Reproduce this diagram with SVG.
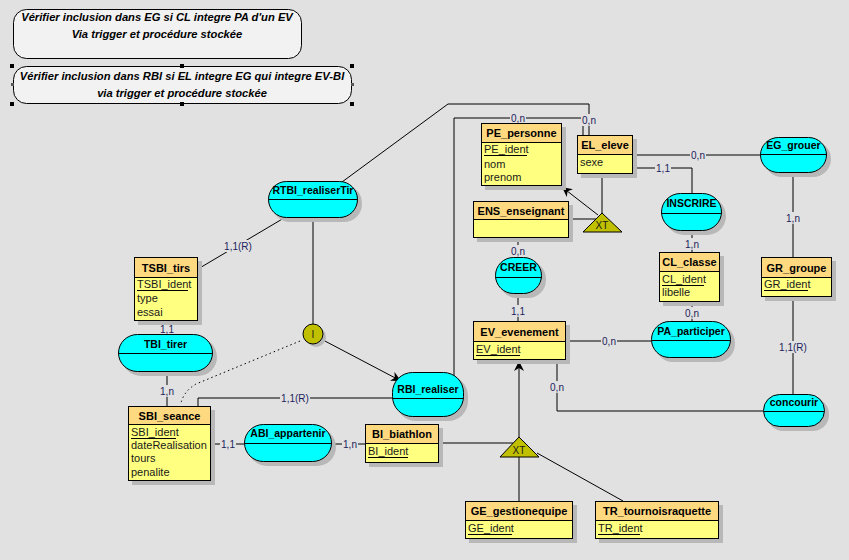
<svg xmlns="http://www.w3.org/2000/svg" width="849" height="560" viewBox="0 0 849 560">
<defs>
<marker id="arr" viewBox="0 0 10 10" refX="10" refY="5" markerWidth="10" markerHeight="10" orient="auto" markerUnits="userSpaceOnUse">
<path d="M0,0 L10,5 L0,10 L3,5 z" fill="#000"/>
</marker>
<style>
.sh{fill:#b8b8b8}
.hd{fill:#ffd980;stroke:#000;stroke-width:1}
.bd{fill:#ffff80;stroke:#000;stroke-width:1}
.as{fill:#00ffff;stroke:#000;stroke-width:1}
.ttl{font-family:"Liberation Sans",Arial,sans-serif;font-size:11px;font-weight:bold;fill:#000;text-anchor:middle}
.atr{font-family:"Liberation Sans",Arial,sans-serif;font-size:11px;fill:#1a1a1a}
.al{font-family:"Liberation Sans",Arial,sans-serif;font-size:10.5px;font-weight:bold;fill:#000;text-anchor:middle}
.cn{fill:none;stroke:#000;stroke-width:1}
.lb{font-family:"Liberation Sans",Arial,sans-serif;font-size:10px;fill:#1c1c5c;text-anchor:middle}
.lbg{fill:#e1e1e1}
.ul{stroke:#000;stroke-width:1}
.note{fill:#f2f2f2;stroke:#000;stroke-width:1}
.nt{font-family:"Liberation Sans",Arial,sans-serif;font-size:11.2px;font-weight:bold;font-style:italic;fill:#000;text-anchor:middle}
.ol{fill:#c0c000;stroke:#000;stroke-width:1}
.sym{font-family:"Liberation Sans",Arial,sans-serif;font-size:10px;fill:#1a1a1a;text-anchor:middle}
.hn{fill:#000}
</style>
</defs>
<rect width="849" height="560" fill="#e1e1e1"/>

<g id="note1">
<rect x="13.5" y="9.5" width="288" height="49" rx="13" class="note"/>
<text x="157" y="21" class="nt">Vérifier inclusion dans EG si CL integre PA d'un EV</text>
<text x="157" y="38" class="nt">Via trigger et procédure stockée</text>
</g>
<g id="note2">
<rect x="13.5" y="66.5" width="338" height="37" rx="13" class="note"/>
<text x="182" y="80" class="nt">Vérifier inclusion dans RBI si EL integre EG qui integre EV-BI</text>
<text x="182" y="97" class="nt">via trigger et procédure stockée</text>
<rect x="10" y="64" width="4" height="4" class="hn"/>
<rect x="180" y="64" width="4" height="4" class="hn"/>
<rect x="350" y="64" width="4" height="4" class="hn"/>
<rect x="10" y="102" width="4" height="4" class="hn"/>
<rect x="180" y="102" width="4" height="4" class="hn"/>
<rect x="350" y="102" width="4" height="4" class="hn"/>
<rect x="11" y="83" width="3" height="3" fill="#555"/>
<rect x="351" y="83" width="3" height="3" fill="#555"/>
</g>

<g id="connectors">
<path class="cn" d="M342,182 L448,104 L589,104 L589,135"/>
<path class="cn" d="M454,382 L454,118 L583,118 L583,135"/>
<path class="cn" d="M633,155 L760,155"/>
<path class="cn" d="M633,168 L692,168 L692,193"/>
<path class="cn" d="M692,231 L692,252"/>
<path class="cn" d="M793,173 L793,257"/>
<path class="cn" d="M793,297 L793,394"/>
<path class="cn" d="M763,411 L557,411 L557,360"/>
<path class="cn" d="M692,302 L692,321"/>
<path class="cn" d="M566,341 L651,341"/>
<path class="cn" d="M518,294 L518,321"/>
<path class="cn" d="M518,238 L518,257"/>
<path class="cn" d="M602,174 L602,213"/>
<path class="cn" d="M569,219 L596,219"/>
<path class="cn" d="M598,215 L562,187" marker-end="url(#arr)"/>
<path class="cn" d="M519,437 L519,361" marker-end="url(#arr)"/>
<path class="cn" d="M439,443 L513,443"/>
<path class="cn" d="M519,457 L519,501"/>
<path class="cn" d="M537,453 L623,501"/>
<path class="cn" d="M211,444 L244,444"/>
<path class="cn" d="M332,444 L365,444"/>
<path class="cn" d="M198,406 L198,398 L392,398"/>
<path class="cn" d="M167,372 L167,406"/>
<path class="cn" d="M167,321 L167,334"/>
<path class="cn" d="M198,269 L284,218"/>
<path class="cn" d="M313,218 L313,324"/>
<path class="cn" d="M323,340 L401,381" marker-end="url(#arr)"/>
<path class="cn" d="M300,341 L196,384 Q184,391 181,403" stroke-dasharray="1.5,3"/>
<rect x="510" y="112" width="16" height="12" class="lbg"/><text x="518" y="122" class="lb">0,n</text>
<rect x="581" y="114" width="16" height="12" class="lbg"/><text x="589" y="124" class="lb">0,n</text>
<rect x="690" y="149" width="16" height="12" class="lbg"/><text x="698" y="159" class="lb">0,n</text>
<rect x="655" y="162" width="16" height="12" class="lbg"/><text x="663" y="172" class="lb">1,1</text>
<rect x="684" y="238" width="16" height="12" class="lbg"/><text x="692" y="248" class="lb">1,n</text>
<rect x="785" y="212" width="16" height="12" class="lbg"/><text x="793" y="222" class="lb">1,n</text>
<rect x="778" y="341" width="30" height="12" class="lbg"/><text x="793" y="351" class="lb">1,1(R)</text>
<rect x="549" y="381" width="16" height="12" class="lbg"/><text x="557" y="391" class="lb">0,n</text>
<rect x="684" y="307" width="16" height="12" class="lbg"/><text x="692" y="317" class="lb">0,n</text>
<rect x="601" y="335" width="16" height="12" class="lbg"/><text x="609" y="345" class="lb">0,n</text>
<rect x="510" y="305" width="16" height="12" class="lbg"/><text x="518" y="315" class="lb">1,1</text>
<rect x="510" y="245" width="16" height="12" class="lbg"/><text x="518" y="255" class="lb">0,n</text>
<rect x="220" y="438" width="16" height="12" class="lbg"/><text x="228" y="448" class="lb">1,1</text>
<rect x="342" y="438" width="16" height="12" class="lbg"/><text x="350" y="448" class="lb">1,n</text>
<rect x="280" y="392" width="30" height="12" class="lbg"/><text x="295" y="402" class="lb">1,1(R)</text>
<rect x="159" y="385" width="16" height="12" class="lbg"/><text x="167" y="395" class="lb">1,n</text>
<rect x="159" y="323" width="16" height="12" class="lbg"/><text x="167" y="333" class="lb">1,1</text>
<rect x="223" y="240" width="30" height="12" class="lbg"/><text x="238" y="250" class="lb">1,1(R)</text>
</g>

<g id="XT1">
<polygon points="602,213 583,232 622,232" class="ol"/>
<text x="602" y="229" class="sym">XT</text>
</g>
<g id="XT2">
<polygon points="519,437 500,457 539,457" class="ol"/>
<text x="519" y="454" class="sym">XT</text>
</g>
<g id="I">
<circle cx="316" cy="337" r="10" class="sh"/>
<circle cx="313" cy="334" r="10" class="ol"/>
<text x="313" y="338" class="sym">I</text>
</g>

<g id="PE_personne">
<rect x="485" y="127" width="81" height="63" class="sh"/>
<rect x="481.5" y="123.5" width="80" height="19" class="hd"/>
<rect x="481.5" y="142.5" width="80" height="43" class="bd"/>
<text x="521.5" y="137" class="ttl">PE_personne</text>
<text x="484" y="153" class="atr">PE_ident</text>
<line x1="484" y1="155.5" x2="527" y2="155.5" class="ul"/>
<text x="484" y="168" class="atr">nom</text>
<text x="484" y="181" class="atr">prenom</text>
</g>
<g id="EL_eleve">
<rect x="581" y="139" width="56" height="39" class="sh"/>
<rect x="577.5" y="135.5" width="55" height="19" class="hd"/>
<rect x="577.5" y="154.5" width="55" height="19" class="bd"/>
<text x="605" y="149" class="ttl">EL_eleve</text>
<text x="580" y="166" class="atr">sexe</text>
</g>
<g id="ENS_enseignant">
<rect x="477" y="205" width="96" height="37" class="sh"/>
<rect x="473.5" y="201.5" width="95" height="18" class="hd"/>
<rect x="473.5" y="219.5" width="95" height="18" class="bd"/>
<text x="521" y="215" class="ttl">ENS_enseignant</text>
</g>
<g id="CL_classe">
<rect x="663" y="256" width="61" height="50" class="sh"/>
<rect x="659.5" y="252.5" width="60" height="19" class="hd"/>
<rect x="659.5" y="271.5" width="60" height="30" class="bd"/>
<text x="689.5" y="266" class="ttl">CL_classe</text>
<text x="662" y="283" class="atr">CL_ident</text>
<line x1="662" y1="285.5" x2="704" y2="285.5" class="ul"/>
<text x="662" y="296" class="atr">libelle</text>
</g>
<g id="GR_groupe">
<rect x="765" y="261" width="71" height="40" class="sh"/>
<rect x="761.5" y="257.5" width="70" height="20" class="hd"/>
<rect x="761.5" y="277.5" width="70" height="19" class="bd"/>
<text x="796.5" y="272" class="ttl">GR_groupe</text>
<text x="764" y="288" class="atr">GR_ident</text>
<line x1="764" y1="290.5" x2="808" y2="290.5" class="ul"/>
</g>
<g id="EV_evenement">
<rect x="477" y="325" width="93" height="39" class="sh"/>
<rect x="473.5" y="321.5" width="92" height="20" class="hd"/>
<rect x="473.5" y="341.5" width="92" height="18" class="bd"/>
<text x="519.5" y="336" class="ttl">EV_evenement</text>
<text x="476" y="353" class="atr">EV_ident</text>
<line x1="476" y1="355.5" x2="520" y2="355.5" class="ul"/>
</g>
<g id="TSBI_tirs">
<rect x="138" y="261" width="64" height="64" class="sh"/>
<rect x="134.5" y="257.5" width="63" height="20" class="hd"/>
<rect x="134.5" y="277.5" width="63" height="43" class="bd"/>
<text x="166" y="272" class="ttl">TSBI_tirs</text>
<text x="137" y="288" class="atr">TSBI_ident</text>
<line x1="137" y1="290.5" x2="188" y2="290.5" class="ul"/>
<text x="137" y="302" class="atr">type</text>
<text x="137" y="316" class="atr">essai</text>
</g>
<g id="SBI_seance">
<rect x="132" y="410" width="83" height="75" class="sh"/>
<rect x="128.5" y="406.5" width="82" height="18" class="hd"/>
<rect x="128.5" y="424.5" width="82" height="56" class="bd"/>
<text x="169.5" y="420" class="ttl">SBI_seance</text>
<text x="131" y="436" class="atr">SBI_ident</text>
<line x1="131" y1="438.5" x2="176" y2="438.5" class="ul"/>
<text x="131" y="449" class="atr">dateRealisation</text>
<text x="131" y="462" class="atr">tours</text>
<text x="131" y="476" class="atr">penalite</text>
</g>
<g id="BI_biathlon">
<rect x="369" y="428" width="74" height="39" class="sh"/>
<rect x="365.5" y="424.5" width="73" height="19" class="hd"/>
<rect x="365.5" y="443.5" width="73" height="19" class="bd"/>
<text x="402" y="438" class="ttl">BI_biathlon</text>
<text x="368" y="455" class="atr">BI_ident</text>
<line x1="368" y1="457.5" x2="408" y2="457.5" class="ul"/>
</g>
<g id="GE_gestionequipe">
<rect x="469" y="505" width="108" height="38" class="sh"/>
<rect x="465.5" y="501.5" width="107" height="19" class="hd"/>
<rect x="465.5" y="520.5" width="107" height="18" class="bd"/>
<text x="519" y="515" class="ttl">GE_gestionequipe</text>
<text x="468" y="532" class="atr">GE_ident</text>
<line x1="468" y1="534.5" x2="512" y2="534.5" class="ul"/>
</g>
<g id="TR_tournoisraquette">
<rect x="599" y="505" width="124" height="38" class="sh"/>
<rect x="595.5" y="501.5" width="123" height="19" class="hd"/>
<rect x="595.5" y="520.5" width="123" height="18" class="bd"/>
<text x="657" y="515" class="ttl">TR_tournoisraquette</text>
<text x="598" y="532" class="atr">TR_ident</text>
<line x1="598" y1="534.5" x2="640" y2="534.5" class="ul"/>
</g>

<g id="RTBI_realiserTir">
<rect x="272" y="185" width="90" height="37" rx="18" class="sh"/>
<rect x="268.5" y="181.5" width="89" height="36" rx="18" class="as"/>
<line x1="268.5" y1="199.5" x2="357.5" y2="199.5" class="ul"/>
<text x="313" y="194" class="al">RTBI_realiserTir</text>
</g>
<g id="EG_grouer">
<rect x="764" y="141" width="67" height="36" rx="18" class="sh"/>
<rect x="760.5" y="137.5" width="66" height="35" rx="18" class="as"/>
<line x1="760.5" y1="154.5" x2="826.5" y2="154.5" class="ul"/>
<text x="793.5" y="149" class="al">EG_grouer</text>
</g>
<g id="INSCRIRE">
<rect x="665" y="197" width="61" height="38" rx="19" class="sh"/>
<rect x="661.5" y="193.5" width="60" height="37" rx="19" class="as"/>
<line x1="661.5" y1="213.5" x2="721.5" y2="213.5" class="ul"/>
<text x="691.5" y="207" class="al">INSCRIRE</text>
</g>
<g id="CREER">
<rect x="499" y="261" width="47" height="37" rx="18" class="sh"/>
<rect x="495.5" y="257.5" width="46" height="36" rx="18" class="as"/>
<line x1="495.5" y1="277.5" x2="541.5" y2="277.5" class="ul"/>
<text x="518.5" y="271" class="al">CREER</text>
</g>
<g id="PA_participer">
<rect x="655" y="325" width="80" height="37" rx="18" class="sh"/>
<rect x="651.5" y="321.5" width="79" height="36" rx="18" class="as"/>
<line x1="651.5" y1="340.5" x2="730.5" y2="340.5" class="ul"/>
<text x="691" y="335" class="al">PA_participer</text>
</g>
<g id="concourir">
<rect x="767" y="398" width="62" height="33" rx="16" class="sh"/>
<rect x="763.5" y="394.5" width="61" height="32" rx="16" class="as"/>
<line x1="763.5" y1="411.5" x2="824.5" y2="411.5" class="ul"/>
<text x="794" y="406" class="al">concourir</text>
</g>
<g id="RBI_realiser">
<rect x="396" y="376" width="72" height="45" rx="20" class="sh"/>
<rect x="392.5" y="372.5" width="71" height="44" rx="20" class="as"/>
<line x1="392.5" y1="398.5" x2="463.5" y2="398.5" class="ul"/>
<text x="428" y="393" class="al">RBI_realiser</text>
</g>
<g id="TBI_tirer">
<rect x="122" y="338" width="95" height="38" rx="19" class="sh"/>
<rect x="118.5" y="334.5" width="94" height="37" rx="19" class="as"/>
<line x1="118.5" y1="353.5" x2="212.5" y2="353.5" class="ul"/>
<text x="165.5" y="348" class="al">TBI_tirer</text>
</g>
<g id="ABI_appartenir">
<rect x="248" y="428" width="88" height="38" rx="19" class="sh"/>
<rect x="244.5" y="424.5" width="87" height="37" rx="19" class="as"/>
<line x1="244.5" y1="443.5" x2="331.5" y2="443.5" class="ul"/>
<text x="288" y="437" class="al">ABI_appartenir</text>
</g>
</svg>
